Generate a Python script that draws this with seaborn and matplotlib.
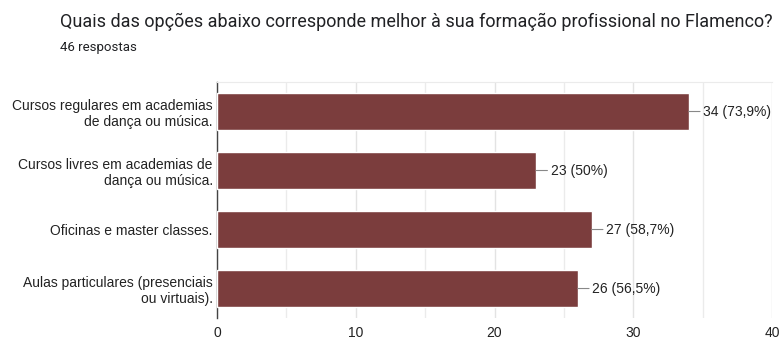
import matplotlib
matplotlib.use("Agg")
import matplotlib.pyplot as plt
import seaborn as sns
import pandas as pd

categories = [
    "Cursos regulares em academias\nde dança ou música.",
    "Cursos livres em academias de\ndança ou música.",
    "Oficinas e master classes.",
    "Aulas particulares (presenciais\nou virtuais).",
]
counts = [34, 23, 27, 26]
percent_labels = ["73,9%", "50%", "58,7%", "56,5%"]
x_ticks = [0, 10, 20, 30, 40]

df = pd.DataFrame({"opcao": categories, "respostas": counts})

sns.set_style("white")
plt.rcParams["font.family"] = ["Liberation Sans", "DejaVu Sans"]

fig = plt.figure(figsize=(7.79, 3.41), dpi=100)
ax = fig.add_axes([0.2786, 0.0674, 0.991 - 0.2786, 0.7595 - 0.0674])

sns.barplot(data=df, y="opcao", x="respostas", orient="h", color="#7b3d3d",
            saturation=1, width=0.63, ax=ax, zorder=3)

ax.set_xlim(0, 40)
ax.set_ylim(3.5, -0.5)
for v in range(0, 41, 5):
    ax.axvline(v, color="#ebebeb" if v % 10 else "#e3e3e3", lw=1, zorder=0)
ax.set_xticks(x_ticks)
ax.set_xticklabels([str(t) for t in x_ticks])
ax.tick_params(axis="x", length=0, pad=5.5, labelsize=10, colors="#222222")
ax.tick_params(axis="y", length=0, pad=3, labelsize=10, colors="#222222")
for lbl in ax.get_yticklabels():
    lbl.set_horizontalalignment("right")
    lbl.set_multialignment("right")
ax.set_xlabel("")
ax.set_ylabel("")
for s in ["right", "bottom"]:
    ax.spines[s].set_visible(False)
ax.spines["top"].set_color("#ebebeb")
ax.spines["left"].set_color("#444444")
ax.spines["left"].set_linewidth(1)

for i, (c, p) in enumerate(zip(counts, percent_labels)):
    ax.annotate(f"{c} ({p})", xy=(c, i), xytext=(10.5, 0), textcoords="offset points",
                ha="left", va="center", fontsize=10, color="#222222",
                arrowprops=dict(arrowstyle="-", color="#888888", lw=0.8,
                                shrinkA=0, shrinkB=0))

fig.text(60 / 779, 1 - 22 / 341, "Quais das opções abaixo corresponde melhor à sua formação profissional no Flamenco?",
         family=["Roboto", "DejaVu Sans"], fontsize=13, color="#202124", va="center", ha="left")
fig.text(60 / 779, 1 - 47 / 341, "46 respostas", family=["Roboto", "DejaVu Sans"],
         fontsize=9.5, color="#202124", va="center", ha="left")

fig.savefig("out.png", dpi=100)
